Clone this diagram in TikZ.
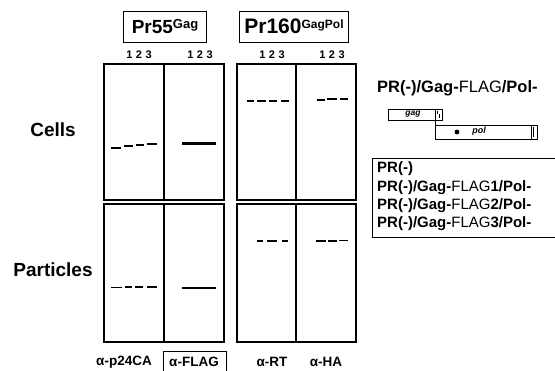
\documentclass[tikz,border=0pt]{standalone}
\usepackage{fontspec}
\setmainfont{Liberation Sans}
\begin{document}
\begin{tikzpicture}[x=1pt,y=-1pt,
  panel/.style={draw,line width=1.6pt},
  divider/.style={line width=1.4pt},
  bigl/.style={font=\bfseries\fontsize{19}{20}\selectfont,inner sep=0pt},
  lane/.style={font=\bfseries\fontsize{11}{12}\selectfont,inner sep=0pt},
  titlebox/.style={draw,line width=0.8pt,inner sep=0pt,font=\bfseries\fontsize{19}{20}\selectfont},
  ab/.style={font=\bfseries\fontsize{13.5}{14}\selectfont,inner sep=0pt},
  leg/.style={font=\bfseries\fontsize{15}{16}\selectfont,inner sep=0pt,anchor=west},
  thin/.style={line width=0.8pt}
]
\useasboundingbox (0,0) rectangle (555,371);
\fill[white] (0,0) rectangle (555,371);

% title boxes
\node[titlebox,minimum width=83pt,minimum height=31pt] (t1) at (165,26.5)
  {Pr55\raisebox{5pt}{\fontsize{13}{13}\selectfont Gag}};
\node[titlebox,minimum width=109pt,minimum height=31pt,font=\bfseries\fontsize{21}{22}\selectfont] (t2) at (294,26.5)
  {Pr160\raisebox{5pt}{\fontsize{12}{12}\selectfont GagPol}};

% lane numbers
\foreach \x/\n in {139/l1,200/l2,272/l3,332/l4}
  \node[lane] (\n) at (\x,55) {1\hspace{3.5pt}2\hspace{3.5pt}3};

% panels
\draw[panel] (104,64) rectangle (224,200);
\draw[panel] (237,64) rectangle (356,200);
\draw[panel] (104,204) rectangle (224,342);
\draw[panel] (237,204) rectangle (356,342);
\draw[divider] (164,64) -- (164,200);
\draw[divider] (296,64) -- (296,200);
\draw[divider] (164,204) -- (164,342);
\draw[divider] (296,204) -- (296,342);

% bands: x1/x2/y/thickness
\foreach \a/\b/\y/\t in {
  111/121/148/2.2, 124/133/146/2.0, 136/144/145/2.0, 147/157/144/2.2,
  182/216/143.5/3.4,
  247/254/101/1.6, 257/266/101/1.6, 269/277/101/1.4, 281/289/101/1.4,
  317/325/100/1.8, 327/337/99.5/2.0, 340/348/99.5/2.0,
  111/122/287.5/1.6, 125/132/287/1.4, 135/143/287/1.4, 147/157/287/1.6,
  182/216/288/2.8,
  257/263/241/1.4, 267/277/241/1.4, 282/288/241/1.4,
  316/326/241/1.4, 328/337/241/1.4, 339/348/240.5/1.6}
  \fill[black] (\a,\y-\t/2) rectangle (\b,\y+\t/2);

% row labels
\node[bigl] (cells) at (53,130) {Cells};
\node[bigl] (part) at (53,270) {Particles};

% antibody labels
\node[ab] (a1) at (124,362) {α-p24CA};
\node[ab] (a2) at (194,362) {α-FLAG};
\node[ab] (a3) at (272,362) {α-RT};
\node[ab] (a4) at (326,362) {α-HA};
\draw[thin] (163,371) -- (163,351) -- (226,351) -- (226,371);

% construct label
\node[leg,font=\bfseries\fontsize{16.5}{18}\selectfont] (c0) at (377,88) {PR(-)/Gag-{\mdseries FLAG}/Pol-};

% gag / pol diagram
\draw[thin] (388,109) rectangle (442,120);
\draw[thin] (435,109) -- (435,120);
\node[font=\bfseries\itshape\fontsize{8.5}{9}\selectfont,inner sep=0pt] (gag) at (413,114) {gag};
\draw[line width=1pt] (437.5,111) -- (437.5,114) (439.5,114) -- (439.5,118);
\draw[thin] (435,120) -- (435,125);
\draw[thin] (435,125) rectangle (537,139);
\draw[thin] (531,125) -- (531,139);
\draw[line width=1.2pt] (533.5,127) -- (533.5,137);
\fill (457,132) circle (2.4pt);
\node[font=\bfseries\itshape\fontsize{9}{10}\selectfont,inner sep=0pt] (pol) at (479,131) {pol};

% legend
\draw[thin] (555,158) -- (372,158) -- (372,237) -- (555,237);
\node[leg] (g0) at (377,169) {PR(-)};
\node[leg] (g1) at (377,188) {PR(-)/Gag-{\mdseries FLAG}1/Pol-};
\node[leg] (g2) at (377,206) {PR(-)/Gag-{\mdseries FLAG}2/Pol-};
\node[leg] (g3) at (377,224) {PR(-)/Gag-{\mdseries FLAG}3/Pol-};
\end{tikzpicture}
\end{document}
